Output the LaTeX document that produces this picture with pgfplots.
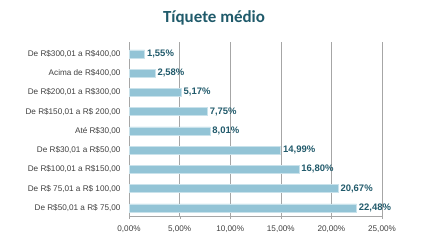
\documentclass[border=0pt]{standalone}
\usepackage{pgfplots}
\pgfplotsset{compat=1.18}
\usepackage{fontspec}
\setmainfont{Liberation Sans}
\newfontfamily\titlefont{Carlito}
\definecolor{barfill}{HTML}{93C4D6}
\definecolor{bardraw}{HTML}{C9E2EB}
\definecolor{lbl}{HTML}{215A6B}
\definecolor{ttl}{HTML}{1F5A6A}
\definecolor{gridc}{HTML}{A6A6A6}
\begin{document}
\begin{tikzpicture}[x=1bp,y=1bp]
\path[use as bounding box] (0,0) rectangle (430,243);
\node[font=\titlefont\fontsize{17}{19}\selectfont\bfseries, text=ttl] at (214,225) {Tíquete médio};
\begin{axis}[
  at={(129bp,27bp)}, anchor=south west,
  scale only axis, width=253bp, height=174bp,
  xbar, bar width=8bp,
  xmin=0, xmax=25, ymin=-0.42, ymax=8.62,
  xtick={0,5,10,15,20,25},
  xticklabels={{0,00\%},{5,00\%},{10,00\%},{15,00\%},{20,00\%},{25,00\%}},
  ytick={0,1,2,3,4,5,6,7,8},
  yticklabels={{De R\$50,01 a R\$ 75,00},{De R\$ 75,01 a R\$ 100,00},{De R\$100,01 a R\$150,00},{De R\$30,01 a R\$50,00},{Até R\$30,00},{De R\$150,01 a R\$ 200,00},{De R\$200,01 a R\$300,00},{Acima de R\$400,00},{De R\$300,01 a R\$400,00}},
  minor ytick={-0.42,0.5,1.5,2.5,3.5,4.5,5.5,6.5,7.5,8.62},
  ticklabel style={font=\fontsize{8.2}{10}\selectfont, text=black!75},
  /pgf/number format/assume math mode=true,
  xmajorgrids, major grid style={gridc, line width=0.6pt},
  axis x line*=bottom, axis y line*=left,
  axis line style={gridc},
  x tick style={gridc},
  y tick style={draw=none},
  minor y tick style={gridc},
  major tick length=3bp, minor tick length=3bp,
  xtick align=outside, ytick align=outside,
  yticklabel style={xshift=-2bp},
  xticklabel style={yshift=-3bp},
  nodes near coords={\pgfmathprintnumber[fixed,fixed zerofill,precision=2,use comma]{\pgfplotspointmeta}\%},
  nodes near coords style={font=\fontsize{9.5}{11}\selectfont\bfseries, text=lbl, anchor=west, inner xsep=2bp},
  point meta=x,
]
\addplot[fill=barfill, draw=bardraw, line width=0.8pt] coordinates {
(22.48,0) (20.67,1) (16.80,2) (14.99,3) (8.01,4) (7.75,5) (5.17,6) (2.58,7) (1.55,8)
};
\end{axis}
\end{tikzpicture}
\end{document}
